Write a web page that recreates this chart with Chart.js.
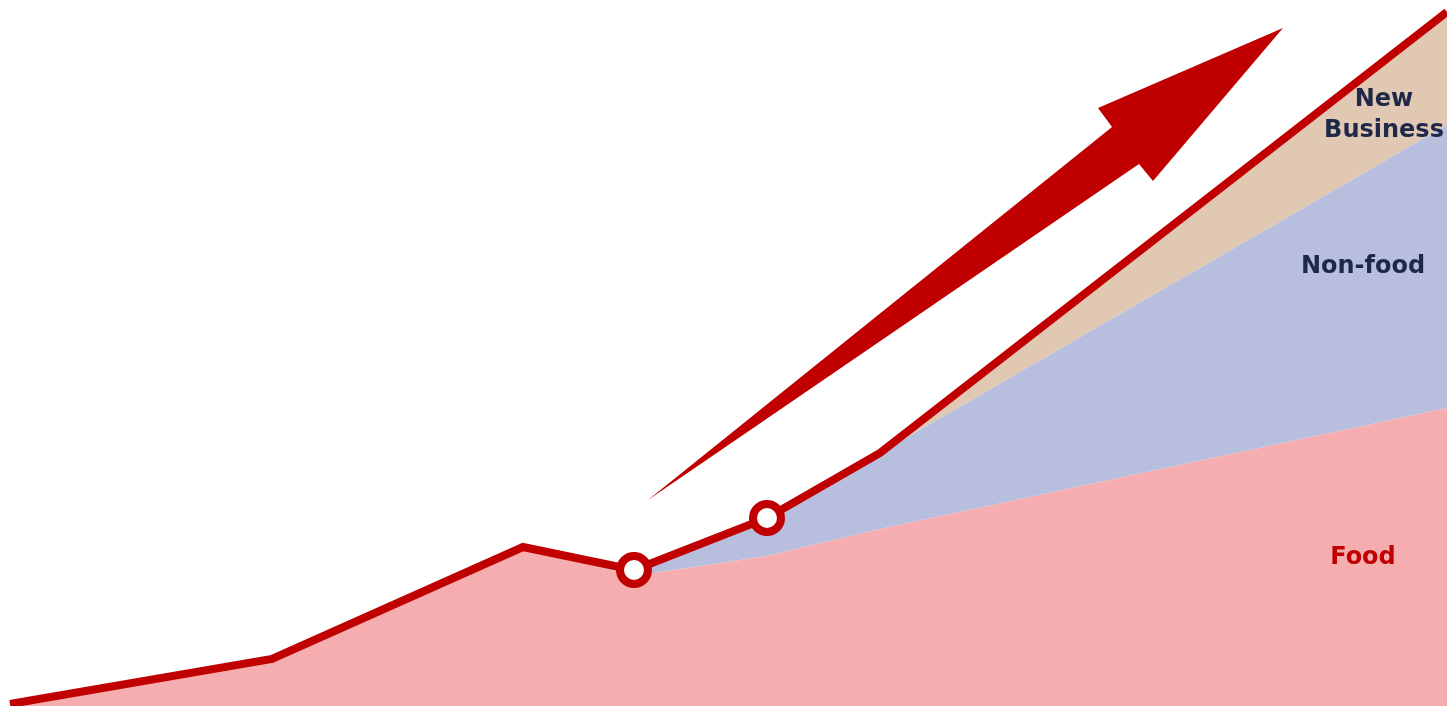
<!DOCTYPE html>
<html>
<head>
<meta charset="utf-8">
<title>Sales growth by segment</title>
<script src="https://cdn.jsdelivr.net/npm/chart.js@4/dist/chart.umd.min.js"></script>
<style>
  html, body { margin: 0; padding: 0; background: #ffffff; overflow: hidden; }
  #wrap { width: 1447px; height: 706px; }
</style>
</head>
<body>
<div id="wrap"><canvas id="chart" width="1447" height="706"></canvas></div>
<script>
// Time positions along the horizontal axis
const periods = [10, 272, 523, 634, 767, 880, 1447];

// Segment values (stacked)
const food        = [2, 47, 159, 130, 150, 177, 298];
const nonFood     = [0,  0,   0,   6,  38,  76, 283];
const newBusiness = [0,  0,   0,   0,   0,   0, 113];

// Overall total drawn as the red trend line
const total = periods.map((_, i) => food[i] + nonFood[i] + newBusiness[i]);

// Periods highlighted with a ring marker
const highlighted = [false, false, false, true, true, false, false];

// Segment names
const segmentNames = ['Food', 'Non-food', 'New Business'];

const RED = '#C00000';
const NAVY = '#1F2849';

const toPoints = arr => arr.map((v, i) => ({ x: periods[i], y: v }));

// Growth arrow outline, in axis units
const arrowShape = [
  [648, 206], [1112, 579], [1098, 598], [1283, 678], [1153, 525], [1139, 542]
];

// Segment label placement, in axis units
const segmentLabels = [
  { lines: ['New', 'Business'], x: 1384, y: 600, color: NAVY },
  { lines: [segmentNames[1]], x: 1363, y: 433, color: NAVY },
  { lines: [segmentNames[0]], x: 1363, y: 142, color: RED }
];

const decorations = {
  id: 'decorations',
  afterDatasetsDraw(chart) {
    const { ctx, scales } = chart;
    const xs = scales.x, ys = scales.y;
    ctx.save();
    // growth arrow
    ctx.beginPath();
    arrowShape.forEach(([x, y], i) => {
      const px = xs.getPixelForValue(x), py = ys.getPixelForValue(y);
      if (i === 0) ctx.moveTo(px, py); else ctx.lineTo(px, py);
    });
    ctx.closePath();
    ctx.fillStyle = RED;
    ctx.fill();

    // segment labels
    ctx.font = "bold 24px 'DejaVu Sans', sans-serif";
    ctx.textAlign = 'center';
    ctx.textBaseline = 'alphabetic';
    segmentLabels.forEach(lbl => {
      const px = xs.getPixelForValue(lbl.x);
      const py = ys.getPixelForValue(lbl.y);
      ctx.fillStyle = lbl.color;
      lbl.lines.forEach((t, i) => ctx.fillText(t, px, py + i * 31));
    });
    ctx.restore();
  }
};

new Chart(document.getElementById('chart'), {
  type: 'line',
  data: {
    datasets: [
      {
        label: segmentNames[0],
        data: toPoints(food),
        backgroundColor: '#F5ADAF',
        borderWidth: 0,
        pointRadius: 0,
        fill: 'origin',
        order: 1
      },
      {
        label: segmentNames[1],
        data: toPoints(nonFood),
        backgroundColor: '#B8BFDE',
        borderWidth: 0,
        pointRadius: 0,
        fill: '-1',
        order: 2
      },
      {
        label: segmentNames[2],
        data: toPoints(newBusiness),
        backgroundColor: '#E1C8B3',
        borderWidth: 0,
        pointRadius: 0,
        fill: '-1',
        order: 3
      },
      {
        label: 'Total',
        data: toPoints(total),
        stack: 'total',
        borderColor: RED,
        borderWidth: 8,
        borderJoinStyle: 'miter',
        borderCapStyle: 'butt',
        fill: false,
        pointRadius: highlighted.map(h => (h ? 14 : 0)),
        pointHoverRadius: highlighted.map(h => (h ? 14 : 0)),
        pointBackgroundColor: '#ffffff',
        pointBorderColor: RED,
        pointBorderWidth: 8,
        order: 0
      }
    ]
  },
  options: {
    responsive: false,
    devicePixelRatio: 1,
    animation: false,
    events: [],
    layout: { padding: 0 },
    elements: { line: { tension: 0 } },
    plugins: {
      legend: { display: false },
      tooltip: { enabled: false },
      title: { display: false }
    },
    scales: {
      x: { type: 'linear', min: 0, max: 1447, display: false },
      y: { min: 0, max: 706, stacked: true, display: false }
    }
  },
  plugins: [decorations]
});
</script>
</body>
</html>
